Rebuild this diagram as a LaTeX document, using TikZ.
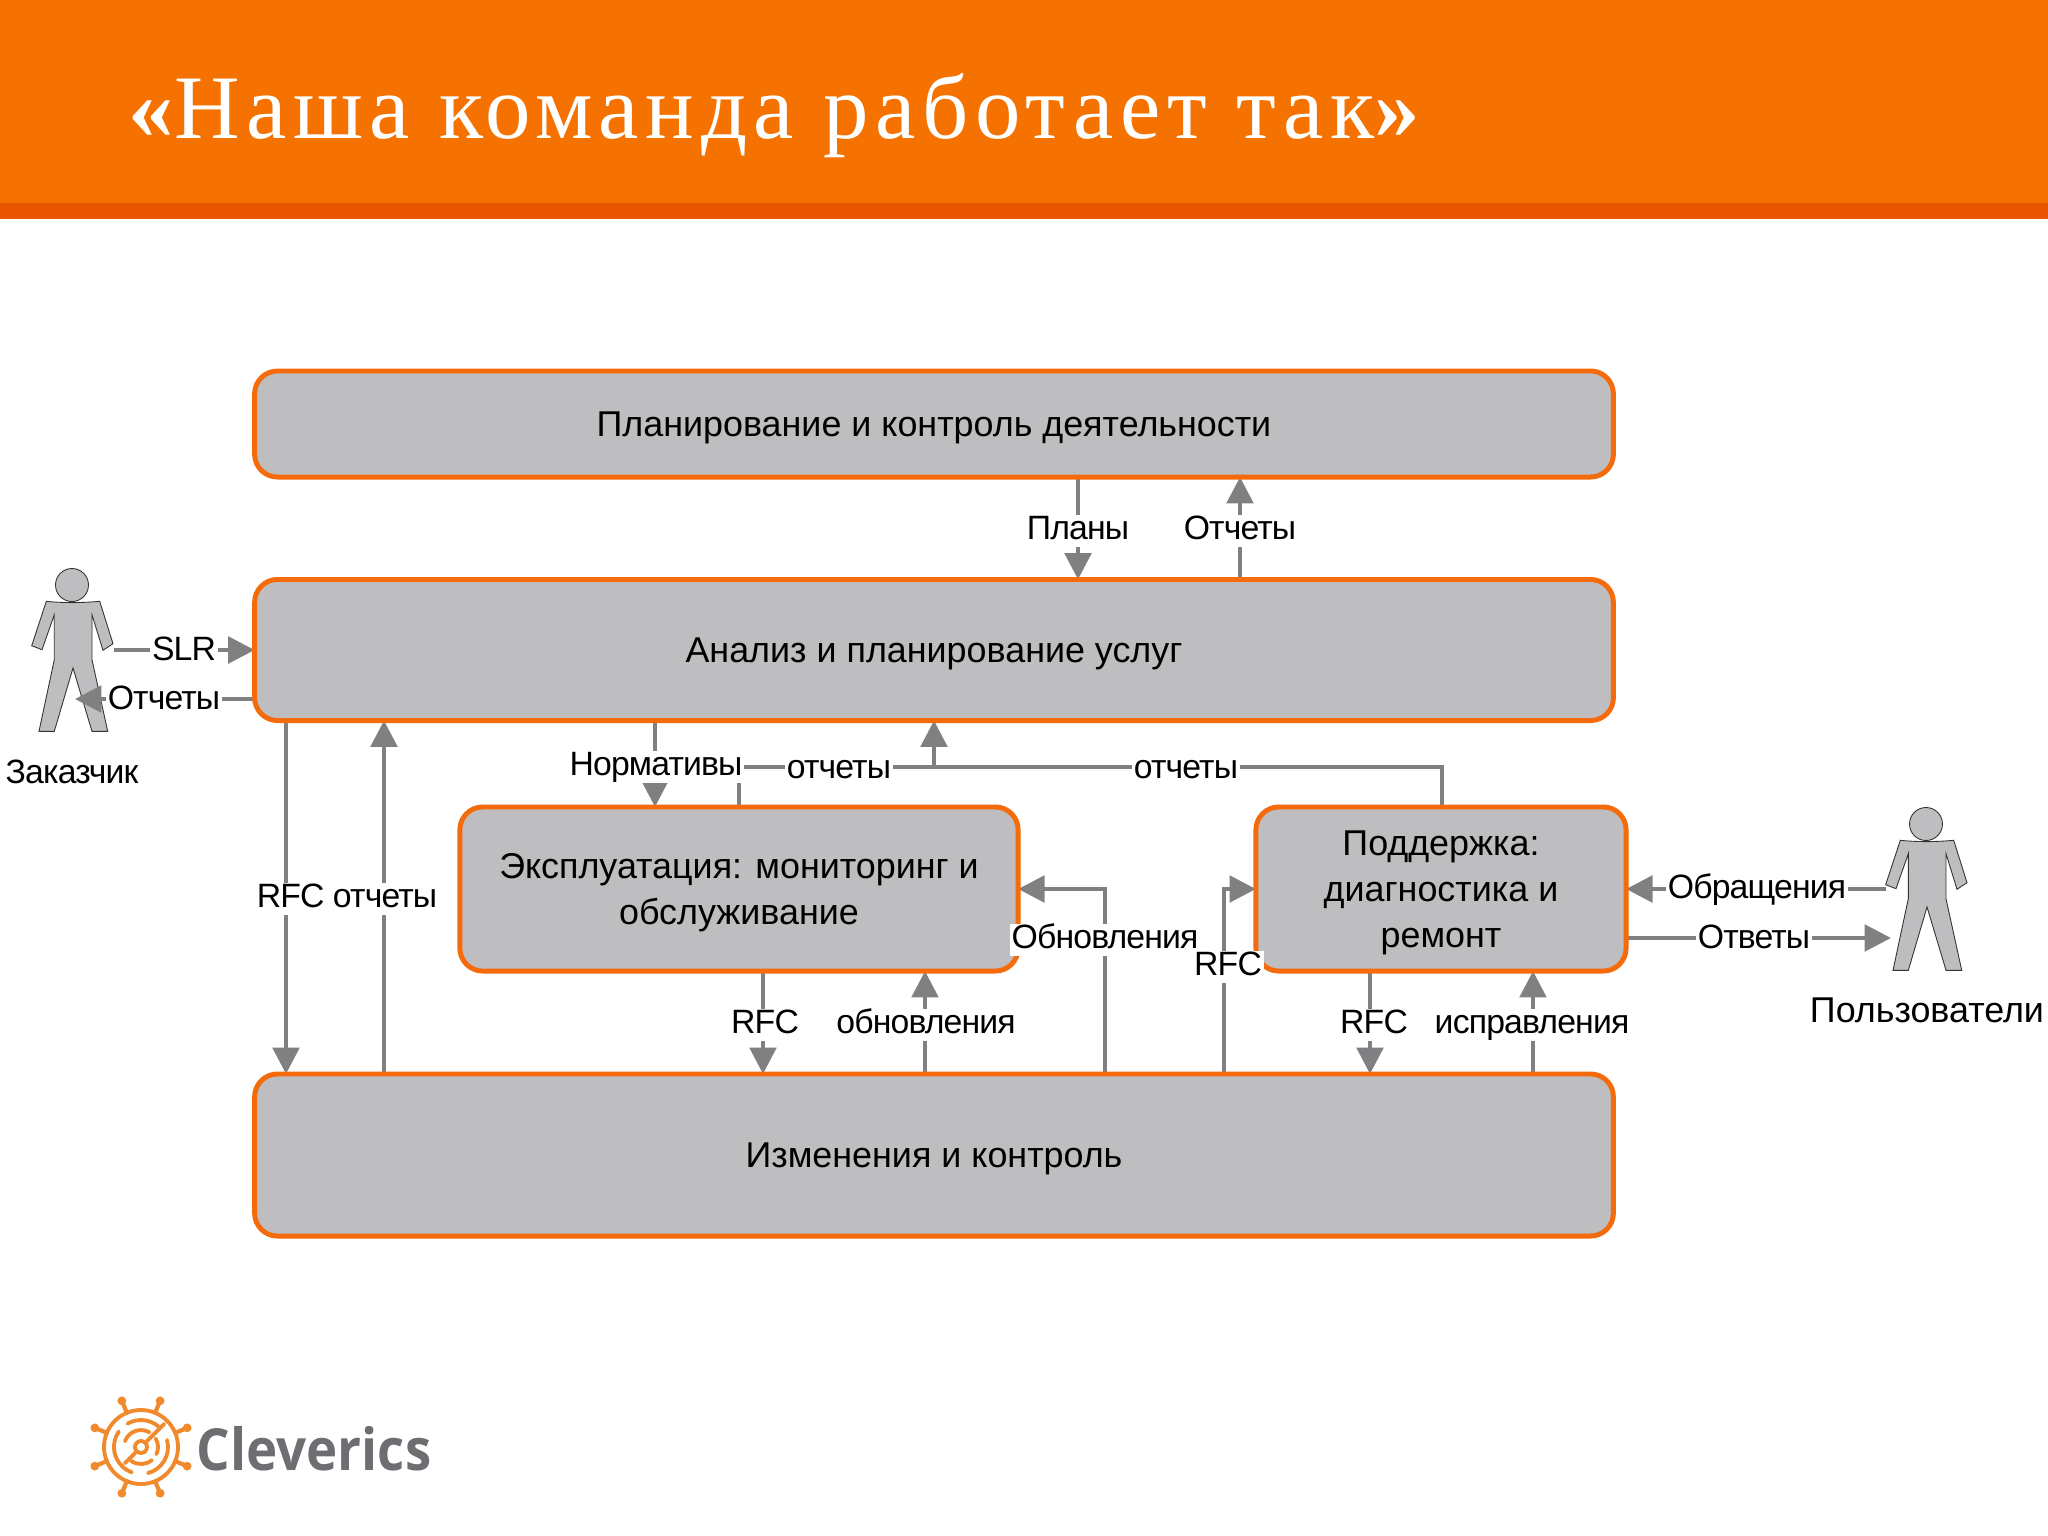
\documentclass[tikz,border=0pt]{standalone}
\usepackage{fontspec}
\usetikzlibrary{arrows.meta,backgrounds}
\setmainfont{Liberation Sans}
\newfontfamily\titlefont[LetterSpace=7.3]{Liberation Serif}
\newfontfamily\labfont[LetterSpace=-2.5]{Liberation Sans}
\newfontfamily\logofont[FakeStretch=0.91]{Open Sans}
\definecolor{barorange}{HTML}{F57200}
\definecolor{bardark}{HTML}{E85400}
\definecolor{boxorange}{HTML}{F56A0A}
\definecolor{boxgray}{HTML}{BEBDBF}
\definecolor{flowgray}{HTML}{808082}
\definecolor{logoorange}{HTML}{F08A2C}
\definecolor{logogray}{HTML}{6D6E71}
\tikzset{
  box/.style={draw=boxorange,fill=boxgray,line width=1.4pt,rounded corners=6.5pt,
    align=center,inner sep=0pt,outer sep=0pt,text depth=0pt,font=\fontsize{10.2}{13}\selectfont},
  lab/.style={fill=white,inner xsep=0.5pt,inner ysep=0pt,text height=7pt,text depth=2pt,font=\labfont\fontsize{9.6}{12}\selectfont},
  flow/.style={draw=flowgray,line width=1.2pt,-{Triangle[length=7.5pt,width=7.5pt]}},
  flowplain/.style={draw=flowgray,line width=1.2pt},
  person/.pic={
    \filldraw [fill=boxgray,draw=black!80,line width=0.25pt]
      (-25.7,16.3) .. controls (-10,18) and (10,18) .. (27.7,16.3) -- (41,58.7) -- (31,65.3)
      -- (20,29.7) -- (20,74.7) -- (35.7,146.3) -- (20,146.3) -- (1,83) -- (-17.7,146.3)
      -- (-33,146.3) -- (-17.7,74.7) -- (-17.7,29.7) -- (-30,64.7) -- (-40.3,60.7) -- cycle;
    \filldraw [fill=boxgray,draw=black!80,line width=0.25pt] (0,0) circle [radius=16.5];
    \coordinate (-rhand) at (42,65);
    \coordinate (-lhand) at (-40,65);
    \coordinate (-rhip) at (3,114);
    \coordinate (-lhip) at (-35,114);
  }
}
\begin{document}
\begin{tikzpicture}[x=0.01cm,y=-0.01cm]
  \useasboundingbox (0,0) rectangle (2048,1536);
  \fill [barorange] (0,0) rectangle (2048,203);
  \fill [bardark] (0,203) rectangle (2048,219);
  \node (title) [anchor=base west,text=white,font=\titlefont\fontsize{25.8}{30}\selectfont,inner sep=0pt]
    at (128,138) {{\bfseries«}Наша команда работает так{\bfseries»}};

  % blocks
  \node (planning) [box,minimum width=13.58cm,minimum height=1.06cm] at (934,424)
    {Планирование и контроль деятельности};
  \node (analysis) [box,minimum width=13.58cm,minimum height=1.41cm] at (934,650)
    {Анализ и планирование услуг};
  \node (ops) [box,minimum width=5.58cm,minimum height=1.64cm] at (739,889)
    {Эксплуатация: мониторинг и\\обслуживание};
  \node (support) [box,minimum width=3.70cm,minimum height=1.64cm] at (1441,889)
    {Поддержка:\\диагностика и\\ремонт};
  \node (changes) [box,minimum width=13.58cm,minimum height=1.62cm] at (934,1155)
    {Изменения и контроль};

  \node (customerlab) [font=\labfont\fontsize{9.6}{12}\selectfont] at (72,772) {Заказчик};
  \node (userslab) [font=\fontsize{10.2}{12}\selectfont] at (1927,1010) {Пользователи};

  % columns and rows of the connectors
  \foreach \name/\x in {cplans/1078,creports/1240,crfca/286,cupa/384,cnorms/655,copsrep/739,
    cup/934,csuprep/1442,crfcb/763,cupdb/925,cupdc/1105,crfcc/1224,crfcd/1370,cfix/1533}
    \coordinate (\name) at (\x,0);
  \coordinate (rbus) at (0,767);

  % labels
  \node (lplans) [lab] at (1078,531) {Планы};
  \node (lreports) [lab] at (1240,531) {Отчеты};
  \node (lslr) [lab] at (184,652) {SLR};
  \node (lcust) [lab] at (164,701) {Отчеты};
  \node (lmid) [lab] at (347,899) {RFC отчеты};
  \node (lnorms) [lab] at (656,767) {Нормативы};
  \node (lrepa) [lab] at (839,770) {отчеты};
  \node (lrepb) [lab] at (1186,770) {отчеты};
  \node (lrfcb) [lab] at (765,1025) {RFC};
  \node (lupdb) [lab] at (926,1025) {обновления};
  \node (lupdc) [lab] at (1105,940) {Обновления};
  \node (lrfcc) [lab] at (1228,967) {RFC};
  \node (lrfcd) [lab] at (1374,1025) {RFC};
  \node (lfix) [lab] at (1532,1025) {исправления};
  \node (lappeal) [lab] at (1757,890) {Обращения};
  \node (lanswers) [lab] at (1754,940) {Ответы};

  \begin{pgfonlayer}{background}
    % people
    \pic (customer) at (72,585) {person};
    \pic (users) at (1926,824) {person};

    \draw [flow] (planning.south -| cplans) -- (analysis.north -| cplans);
    \draw [flow] (analysis.north -| creports) -- (planning.south -| creports);
    \draw [flow] (customer-rhand) -- (customer-rhand -| analysis.west);
    \draw [flow] (customer-rhip -| analysis.west) -- (customer-rhip);
    \draw [flow] (analysis.south -| crfca) -- (changes.north -| crfca);
    \draw [flow] (changes.north -| cupa) -- (analysis.south -| cupa);
    \draw [flow] (analysis.south -| cnorms) -- (ops.north -| cnorms);
    \draw [flowplain] (ops.north -| copsrep) -- (rbus -| copsrep) -- (rbus -| csuprep) -- (support.north -| csuprep);
    \draw [flow] (rbus -| cup) -- (analysis.south -| cup);
    \draw [flow] (ops.south -| crfcb) -- (changes.north -| crfcb);
    \draw [flow] (changes.north -| cupdb) -- (ops.south -| cupdb);
    \draw [flow] (changes.north -| cupdc) -- (ops.east -| cupdc) -- (ops.east);
    \draw [flow] (changes.north -| crfcc) -- (support.west -| crfcc) -- (support.west);
    \draw [flow] (support.south -| crfcd) -- (changes.north -| crfcd);
    \draw [flow] (changes.north -| cfix) -- (support.south -| cfix);
    \draw [flow] (users-lhand) -- (users-lhand -| support.east);
    \draw [flow] (users-lhip -| support.east) -- (users-lhip);
  \end{pgfonlayer}

  % logo
  \begin{scope}[shift={(141,1447)},yscale=-1,draw=logoorange,line width=1.1pt,line cap=round]
    \foreach \a in {22.5,67.5,...,360}
    {
      \draw [line width=1.2pt] (\a:37) -- (\a:50);
      \fill [logoorange] (\a:50) circle [radius=4.4];
    }
    \draw (0,0) circle [radius=37];
    \draw (50:27) arc [start angle=50,end angle=120,radius=27];
    \draw (145:27) arc [start angle=145,end angle=250,radius=27];
    \draw (-75:27) arc [start angle=-75,end angle=15,radius=27];
    \draw (60:17) arc [start angle=60,end angle=160,radius=17];
    \draw (-125:17) arc [start angle=-125,end angle=-50,radius=17];
    \draw (-25:17) arc [start angle=-25,end angle=30,radius=17];
    \draw (0,0) circle [radius=6];
    \draw (45:8) -- (45:33);
    \draw (-135:8) -- (-135:23);
  \end{scope}
  \node (logotext) [anchor=base west,text=logogray,inner sep=0pt,font=\logofont\bfseries\fontsize{16.5}{20}\selectfont]
    at (196,1470) {Cleverics};
\end{tikzpicture}
\end{document}
